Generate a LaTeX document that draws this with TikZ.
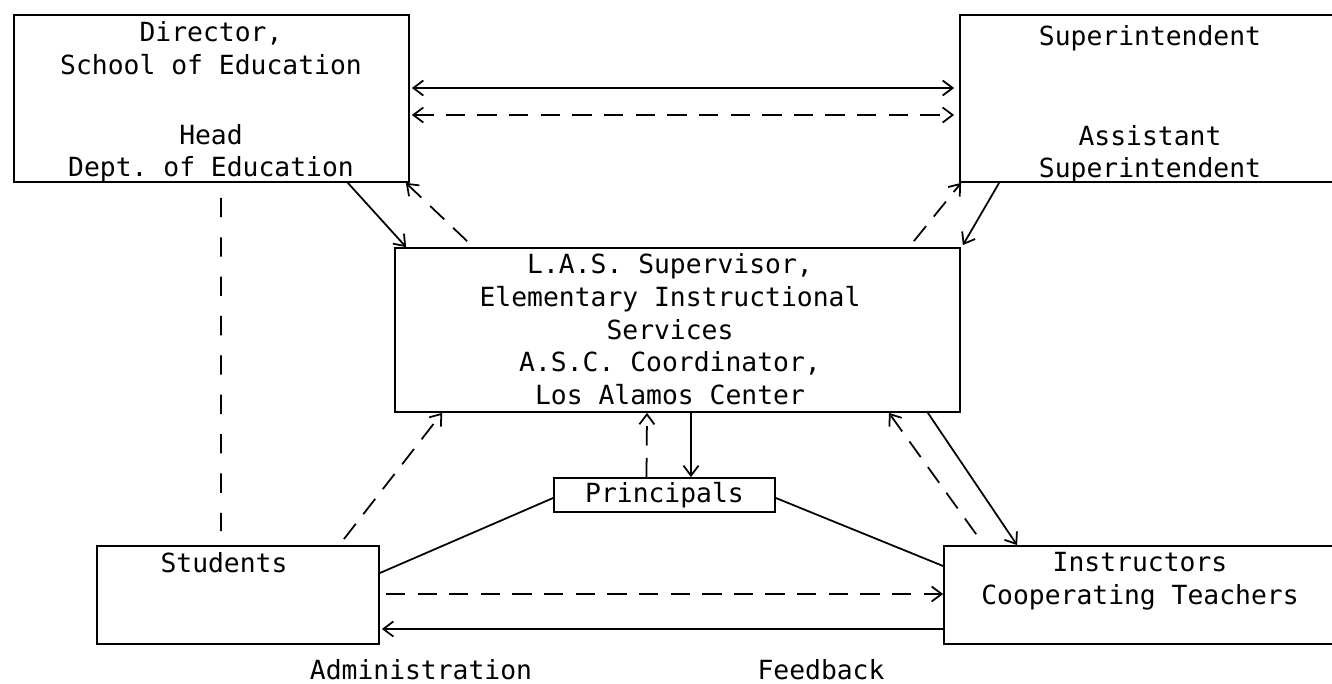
\documentclass[tikz,border=0pt]{standalone}
\usepackage{fontspec}
\setmonofont{DejaVu Sans Mono}
\usetikzlibrary{positioning,arrows.meta,calc}

\begin{document}
\begin{tikzpicture}[
      x=0.2mm, y=-0.2mm,
      font=\ttfamily\fontsize{15}{18.7}\selectfont,
      >={Straight Barb[length=2mm,width=3mm]},
      orgbox/.style={rectangle, draw, line width=1pt, inner sep=0pt},
      lbl/.style={inner sep=0pt, align=center},
      link/.style={line width=1pt},
      flow/.style={->, line width=1pt},
      dflow/.style={flow, dash pattern=on 11pt off 7pt},
      dlink/.style={link, dash pattern=on 11pt off 11.4pt},
    ]
    \useasboundingbox (0,0) rectangle (1332,683);
    \clip (0,0) rectangle (1332,683);

    % top row
    \node[orgbox, minimum width=7.9cm, minimum height=3.34cm] (dir) at (211.5,98.5) {};
    \node[lbl, anchor=north] (dirtxt) at (211,21) {Director,\\School of Education\\[21pt]Head\\Dept. of Education};
    \node[orgbox, minimum width=7.6cm, minimum height=3.34cm] (supt) at (1150,98.5) {};
    \node[lbl, anchor=north] (supttxt) at (1150,25) {Superintendent\\[38pt]Assistant\\Superintendent};

    % middle
    \node[orgbox, minimum width=11.3cm, minimum height=3.28cm] (las) at (677.5,330) {};
    \node[lbl, anchor=north] (lastxt) at (670,253) {L.A.S. Supervisor,\\Elementary Instructional\\Services\\A.S.C. Coordinator,\\Los Alamos Center};
    \node[orgbox, minimum width=4.42cm, minimum height=0.68cm] (prin) at (664.5,495) {Principals};

    % bottom row
    \node[orgbox, minimum width=5.64cm, minimum height=1.96cm] (stud) at (238,595) {};
    \node[lbl, anchor=north] (studtxt) at (224,552) {Students};
    \node[orgbox, minimum width=7.92cm, minimum height=1.96cm] (inst) at (1142,595) {};
    \node[lbl, anchor=north] (insttxt) at (1140,552) {Instructors\\Cooperating Teachers};

    \node[lbl, anchor=base] (adm) at (421,679) {Administration};
    \node[lbl, anchor=base] (fb) at (821,679) {Feedback};

    % top links
    \draw[flow, <->] ($(dir.east)+(2,-10.5)$) -- ($(supt.west)+(-5,-10.5)$);
    \draw[dflow, <->] ($(dir.east)+(2,16.5)$) -- ($(supt.west)+(-5,16.5)$);
    \draw[flow] ($(dir.south east)+(-62,0)$) -- ($(las.north west)+(12,0)$);
    \draw[dflow] ($(las.north west)+(73,-6)$) -- ($(dir.south east)+(-4,0)$);
    \draw[dflow] ($(las.north east)+(-47,-6)$) -- ($(supt.south west)+(2,0)$);
    \draw[flow] ($(supt.south west)+(40,0)$) -- ($(las.north east)+(2,-2)$);
    \draw[dlink] ($(dir.south west)+(208,15)$) -- ($(stud.north west)+(125,-14)$);

    % center links
    \draw[dflow] ($(stud.north east)+(-36,-6)$) -- ($(las.south west)+(48,0)$);
    \draw[dflow] ($(prin.north)+(-18,0)$) -- ($(las.south)+(-30.5,0)$);
    \draw[flow] ($(las.south)+(13.5,0)$) -- ($(prin.north)+(26.5,0)$);
    \draw[dflow] ($(inst.north west)+(33,-11)$) -- ($(las.south east)+(-72,0)$);
    \draw[flow] ($(las.south east)+(-33,0)$) -- ($(inst.north west)+(74,0)$);
    \draw[link] ($(stud.east)+(0,-22)$) -- ($(prin.west)+(0,3)$);
    \draw[link] ($(prin.east)+(0,3)$) -- ($(inst.west)+(0,-29)$);

    % bottom links
    \draw[dflow] ($(stud.east)+(6,-1)$) -- ($(inst.west)+(0,-1)$);
    \draw[flow] ($(inst.west)+(0,34)$) -- ($(stud.east)+(2,34)$);
\end{tikzpicture}
\end{document}
